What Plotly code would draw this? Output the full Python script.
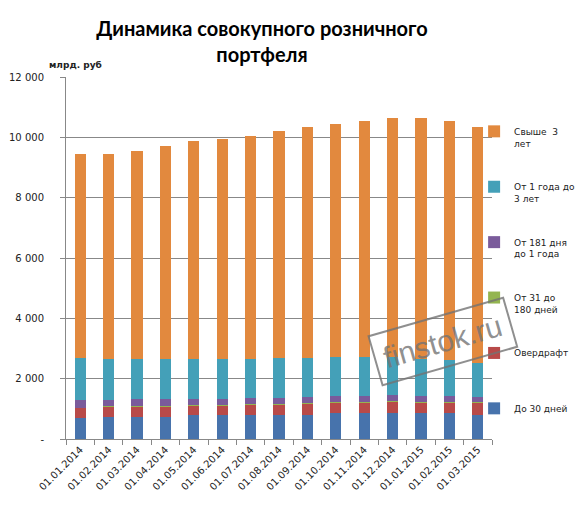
import plotly.graph_objects as go

# даты (категории)
dates = ['01.01.2014', '01.02.2014', '01.03.2014', '01.04.2014', '01.05.2014',
         '01.06.2014', '01.07.2014', '01.08.2014', '01.09.2014', '01.10.2014',
         '01.11.2014', '01.12.2014', '01.01.2015', '01.02.2015', '01.03.2015']

# млрд. руб, снизу вверх
do_30 = [711, 744, 744, 744, 789, 789, 789, 811, 800, 856, 856, 856, 856, 856, 800]
overdraft = [323, 319, 324, 330, 312, 318, 345, 330, 385, 345, 351, 378, 351, 351, 412]
ot_31_180 = [10, 15, 10, 15, 10, 15, 10, 15, 15, 10, 15, 10, 15, 15, 10]
ot_181_1g = [234, 200, 233, 222, 200, 189, 200, 188, 178, 200, 189, 212, 189, 189, 156]
ot_1_3 = [1400, 1366, 1333, 1333, 1333, 1333, 1300, 1334, 1300, 1294, 1294, 1249, 1249, 1194, 1128]
svyshe_3 = [6782, 6816, 6916, 7056, 7226, 7296, 7386, 7522, 7662, 7735, 7835, 7935, 7980, 7935, 7834]

y_ticks = [0, 2000, 4000, 6000, 8000, 10000, 12000]
y_ticklabels = ['-', '2 000', '4 000', '6 000', '8 000', '10 000', '12 000']

series = [
    ('До 30 дней', do_30, '#4773AC'),
    ('Овердрафт', overdraft, '#B84A49'),
    ('От 31 до<br>180 дней', ot_31_180, '#94B550'),
    ('От 181 дня<br>до 1 года', ot_181_1g, '#7A5B9B'),
    ('От 1 года до<br>3 лет', ot_1_3, '#44A0B8'),
    ('Свыше  3<br>лет', svyshe_3, '#E2893E'),
]

fig = go.Figure()
for i, (name, vals, col) in enumerate(series):
    if '<br>' not in name:
        name = name + '<br> '
    fig.add_trace(go.Bar(x=dates, y=vals, name=name, marker_color=col,
                         marker_line_width=0, legendgroup=str(i),
                         legendrank=100 - i))

# страница рисуется со сдвигом 8px (поле body), поэтому фигура на 8px меньше
fig.update_layout(
    barmode='stack', bargap=0.6,
    width=577, height=508,
    margin=dict(l=58, r=93, t=69, b=77, autoexpand=False),
    paper_bgcolor='white', plot_bgcolor='white',
    font=dict(family='DejaVu Sans', size=10, color='#222'),
    title=dict(text='Динамика совокупного розничного<br>портфеля',
               xref='paper', x=(262 - 66) / 426, xanchor='center',
               yref='container', y=0.944, yanchor='top',
               font=dict(family='Lato', size=20, color='black', weight='bold')),
    legend=dict(x=0.958, xanchor='left', y=0.884, yanchor='top',
                traceorder='grouped', tracegroupgap=29, valign='top',
                bgcolor='rgba(0,0,0,0)',
                font=dict(family='DejaVu Sans', size=9, color='#222'),
                itemwidth=30),
    showlegend=True,
)
fig.update_xaxes(type='category', tickangle=-45, tickson='boundaries',
                 ticks='outside', ticklen=5, tickcolor='#888',
                 showline=True, linecolor='#888', linewidth=1,
                 automargin=False,
                 tickfont=dict(family='DejaVu Sans', size=10, color='#222'))
fig.update_yaxes(range=[0, 12000], tickvals=y_ticks, ticktext=y_ticklabels,
                 ticks='outside', ticklen=5, tickcolor='#888',
                 showline=True, linecolor='#888', linewidth=1,
                 showgrid=True, gridcolor='#888', gridwidth=1,
                 zeroline=False, automargin=False, ticklabelstandoff=14,
                 tickfont=dict(family='DejaVu Sans', size=10, color='#222'))

fig.add_annotation(text='<b>млрд. руб</b>', xref='paper', yref='paper',
                   x=-0.045, y=1.015, xanchor='left', yanchor='bottom',
                   showarrow=False, font=dict(family='DejaVu Sans', size=9, color='#222'))

fig.add_annotation(text='finstok.ru', xref='paper', yref='paper',
                   x=0.885, y=0.268, xanchor='center', yanchor='middle',
                   showarrow=False, textangle=-16,
                   font=dict(family='Liberation Sans', size=30, color='rgba(115,115,115,0.8)'),
                   bordercolor='rgba(115,115,115,0.8)', borderwidth=2, borderpad=8)

fig.write_html("out.html")
